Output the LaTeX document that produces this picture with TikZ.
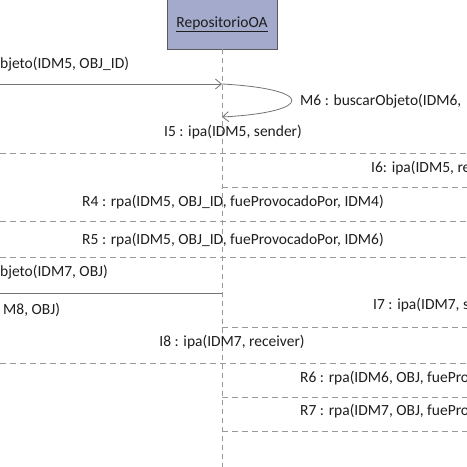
\documentclass[tikz,border=0pt]{standalone}
\usepackage{fontspec}
\setmainfont{Carlito}
\usetikzlibrary{arrows.meta}
\definecolor{boxfill}{RGB}{163,170,204}
\definecolor{txt}{RGB}{30,30,30}

\begin{document}
\begin{tikzpicture}[x=1pt,y=-1pt,
	msg/.style={draw=gray!90!black,line width=0.8pt},
	ret/.style={draw=gray!80,line width=0.8pt,dash pattern=on 6pt off 4pt},
	head/.style={-{Straight Barb[length=6pt,width=10pt]}},
	lbl/.style={font=\fontsize{15.5}{18}\selectfont,text=txt,inner sep=0pt}]
	\useasboundingbox (0,0) rectangle (467,467);
	\clip (0,0) rectangle (467,467);
	% lifeline
	\node[draw=gray!70!black,fill=boxfill,minimum width=110pt,minimum height=50pt,lbl] (repo) at (222,24) {\underline{RepositorioOA}};
	\coordinate (bottom) at (222,470);
	\draw[ret,dash pattern=on 5pt off 4pt] (repo.south) -- (bottom);
	% incoming calls
	\coordinate (a1) at (0,84);
	\coordinate (b1) at (repo.south |- a1);
	\draw[msg,head] (a1) -- (b1);
	\node[lbl,anchor=west] (m5) at (0,64) {bjeto(IDM5, OBJ\_ID)};
	\coordinate (b2) at (222,117);
	\draw[msg,head] (b1) .. controls (315,89) and (315,112) .. (b2);
	\node[lbl,anchor=west] (m6) at (300,101) {M6 : buscarObjeto(IDM6,};
	\coordinate (a7) at (0,293);
	\coordinate (b7) at (repo.south |- a7);
	\draw[msg] (a7) -- (b7);
	\node[lbl,anchor=west] (m7) at (0,272) {bjeto(IDM7, OBJ)};
	\node[lbl,anchor=west] (m8) at (3,310) {M8, OBJ)};
	% returns across the whole width
	\foreach \y in {153,221,257,363}
		\draw[ret] (0,\y) -- (467,\y);
	% returns from the lifeline
	\foreach \y in {187,327,397,431}
		\draw[ret] (222,\y) -- (467,\y);
	\node[lbl] (i5) at (233,132) {I5 : ipa(IDM5, sender)};
	\node[lbl,anchor=west] (i6) at (371,168) {I6: ipa(IDM5, re};
	\node[lbl] (r4) at (233,202) {R4 : rpa(IDM5, OBJ\_ID, fueProvocadoPor, IDM4)};
	\node[lbl] (r5) at (233,240) {R5 : rpa(IDM5, OBJ\_ID, fueProvocadoPor, IDM6)};
	\node[lbl,anchor=west] (i7) at (373,305) {I7 : ipa(IDM7, s};
	\node[lbl] (i8) at (232,342) {I8 : ipa(IDM7, receiver)};
	\node[lbl,anchor=west] (r6) at (300,378) {R6 : rpa(IDM6, OBJ, fuePro};
	\node[lbl,anchor=west] (r7) at (300,411) {R7 : rpa(IDM7, OBJ, fuePro};
\end{tikzpicture}
\end{document}
